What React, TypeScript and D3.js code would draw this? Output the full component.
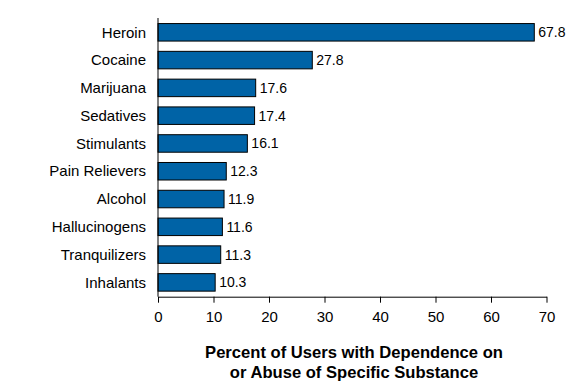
import { useEffect, useRef } from 'react';
import * as d3 from 'd3';

const substances = ['Heroin', 'Cocaine', 'Marijuana', 'Sedatives', 'Stimulants', 'Pain Relievers', 'Alcohol', 'Hallucinogens', 'Tranquilizers', 'Inhalants'];
const percents = [67.8, 27.8, 17.6, 17.4, 16.1, 12.3, 11.9, 11.6, 11.3, 10.3];
const xTicks = [0, 10, 20, 30, 40, 50, 60, 70];
const titleLines = ['Percent of Users with Dependence on', 'or Abuse of Specific Substance'];

export default function App() {
  const svgRef = useRef<SVGSVGElement>(null);

  useEffect(() => {
    if (!svgRef.current) return;
    const width = 576;
    const height = 389;
    const margin = { top: 18, right: 30, bottom: 92, left: 158 };
    const innerW = 546.5 - margin.left;
    const innerH = 296.7 - margin.top;

    d3.select(svgRef.current).selectAll('*').remove();

    const svg = d3.select(svgRef.current)
      .attr('width', width)
      .attr('height', height)
      .style('font-family', 'Arial, "Liberation Sans", sans-serif');

    const g = svg.append('g').attr('transform', `translate(${margin.left},${margin.top})`);

    const x = d3.scaleLinear().domain([0, 70]).range([0, innerW]);
    const y = d3.scaleBand().domain(substances).range([0, innerH]).paddingInner(0.37).paddingOuter(0.2);

    const rows = substances.map((s, i) => ({ name: s, value: percents[i] }));

    // bars
    g.selectAll('rect.bar')
      .data(rows)
      .enter()
      .append('rect')
      .attr('class', 'bar')
      .attr('x', 0)
      .attr('y', d => y(d.name) || 0)
      .attr('width', d => x(d.value))
      .attr('height', y.bandwidth())
      .attr('fill', '#0063a6')
      .attr('stroke', '#000')
      .attr('stroke-width', 1);

    // value labels
    g.selectAll('text.val')
      .data(rows)
      .enter()
      .append('text')
      .attr('class', 'val')
      .attr('x', d => x(d.value) + 4)
      .attr('y', d => (y(d.name) || 0) + y.bandwidth() / 2)
      .attr('dy', '0.35em')
      .attr('font-size', 14)
      .attr('fill', '#000')
      .text(d => d.value.toFixed(1));

    // category labels
    g.selectAll('text.cat')
      .data(rows)
      .enter()
      .append('text')
      .attr('class', 'cat')
      .attr('x', -12)
      .attr('y', d => (y(d.name) || 0) + y.bandwidth() / 2)
      .attr('dy', '0.35em')
      .attr('text-anchor', 'end')
      .attr('font-size', 15)
      .attr('fill', '#000')
      .text(d => d.name);

    // y axis line
    g.append('line')
      .attr('x1', 0).attr('x2', 0)
      .attr('y1', 0).attr('y2', innerH)
      .attr('stroke', '#000');

    // x axis
    const xAxis = g.append('g')
      .attr('transform', `translate(0,${innerH})`)
      .call(d3.axisBottom(x).tickValues(xTicks).tickSize(6).tickSizeOuter(0).tickPadding(9));
    xAxis.select('.domain').attr('stroke', '#000');
    xAxis.selectAll('.tick line').attr('stroke', '#000');
    xAxis.selectAll('.tick text')
      .attr('font-size', 15)
      .attr('font-family', 'Arial, "Liberation Sans", sans-serif')
      .attr('fill', '#000');

    // axis title
    const title = svg.append('text')
      .attr('x', 354)
      .attr('text-anchor', 'middle')
      .attr('font-size', 16.6)
      .attr('font-weight', 'bold')
      .attr('fill', '#000');
    titleLines.forEach((line, i) => {
      title.append('tspan')
        .attr('x', 354)
        .attr('y', 357.5 + i * 20)
        .text(line);
    });
  }, []);

  return (
    <div style={{ position: 'absolute', left: 0, top: 0, width: 576, height: 389, background: '#fff' }}>
      <svg ref={svgRef}></svg>
    </div>
  );
}
